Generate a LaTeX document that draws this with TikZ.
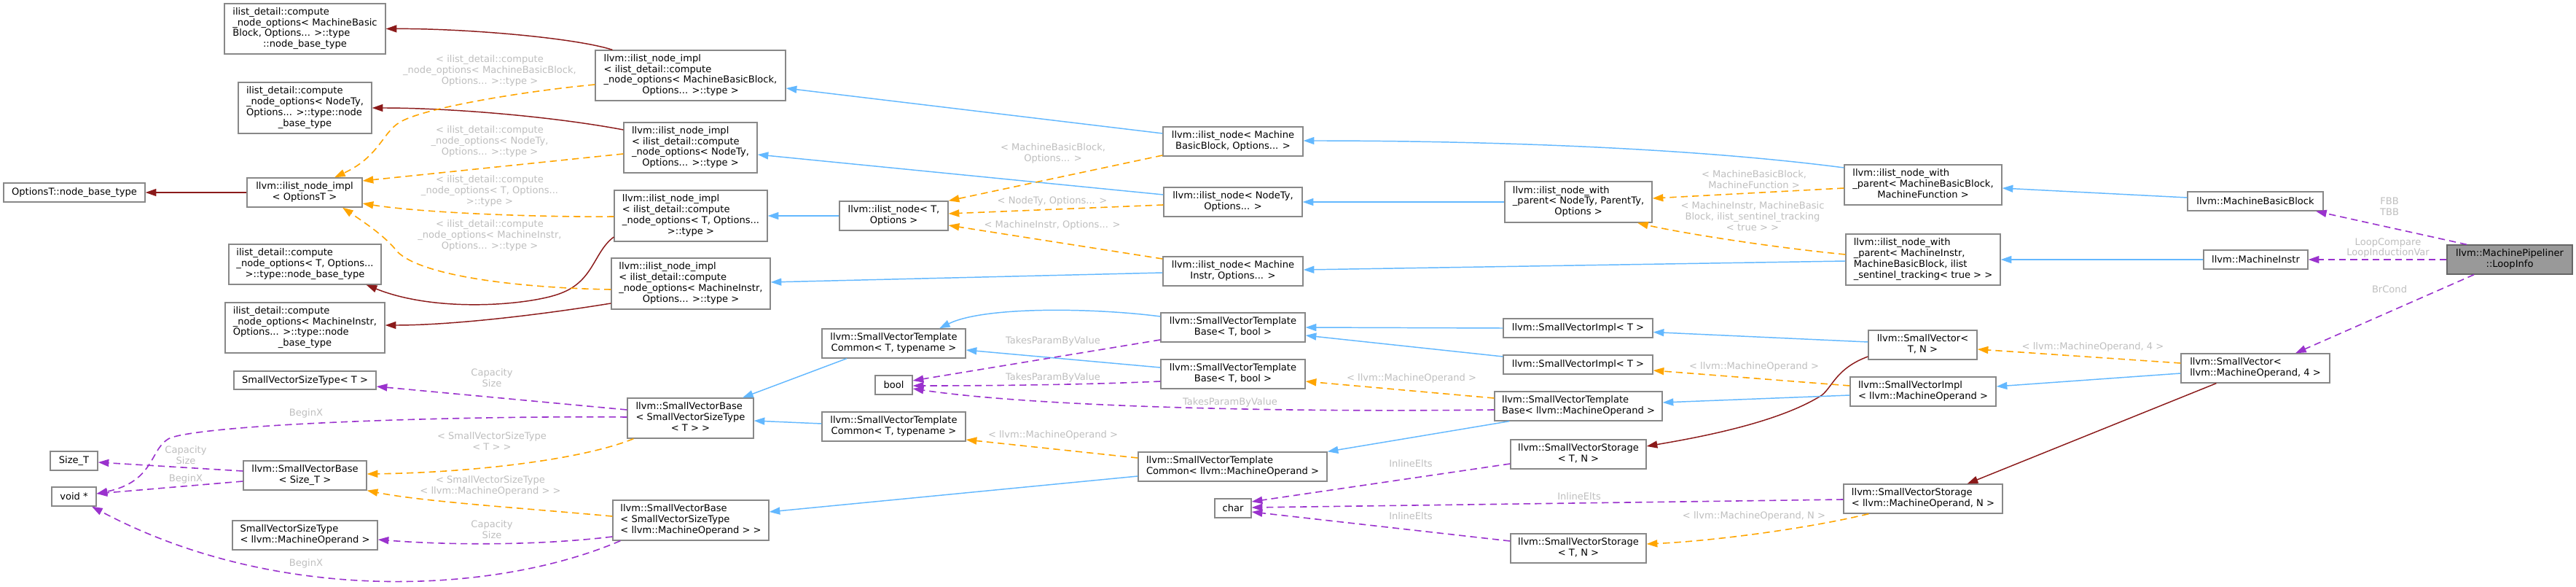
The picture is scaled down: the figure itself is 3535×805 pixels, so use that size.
\documentclass[tikz,border=0pt]{standalone}
\usepackage{fontspec}
\setmainfont{DejaVu Sans}
\usetikzlibrary{arrows.meta,calc}
\definecolor{eblue}{HTML}{63B8FF}
\definecolor{ered}{HTML}{8B1A1A}
\definecolor{eorange}{HTML}{FFA500}
\definecolor{epurple}{HTML}{9A32CD}
\definecolor{lgrey}{HTML}{BEBEBE}
\definecolor{bord}{HTML}{888888}
\definecolor{rootfill}{HTML}{999999}
\definecolor{rootbord}{HTML}{666666}
\newcommand\nodefont{\fontsize{9.8}{11.2}\selectfont}
\newcommand\twol[2]{\begin{tabular}{@{}l@{}}#1\\\multicolumn{1}{@{}c@{}}{#2}\end{tabular}}
\newcommand\mkbox[7]{\node[#1, minimum width={(#5-#3)*0.75pt}, minimum height={(#6-#4)*0.75pt}] (#2) at ({(#3+#5)/2},{(#4+#6)/2}) {#7};}
\begin{document}
\begin{tikzpicture}[x=0.75pt,y=-0.75pt,
  box/.style={draw=bord, fill=white, line width=1pt, inner sep=0pt, font=\nodefont},
  rootbox/.style={box, draw=rootbord, fill=rootfill},
  lbl/.style={text=lgrey, font=\nodefont, align=center, inner sep=0pt},
  tip/.style={-{Triangle[length=11pt,width=7.5pt]}},
  blueE/.style={tip, draw=eblue, line width=1.1pt},
  redE/.style={tip, draw=ered, line width=1.1pt},
  orangeE/.style={tip, draw=eorange, line width=1.2pt, dash pattern=on 7pt off 4.5pt},
  purpleE/.style={tip, draw=epurple, line width=1.2pt, dash pattern=on 7pt off 4.5pt}]
\useasboundingbox (0,0) rectangle (3535,805);

% nodes
\mkbox{box}{N1}{308}{5}{529}{74}{\twol{ilist\_detail::compute\\\_node\_options< MachineBasic\\Block, Options... >::type}{::node\_base\_type}}
\mkbox{box}{N2}{327}{113}{510}{183}{\twol{ilist\_detail::compute\\\_node\_options< NodeTy,\\Options... >::type::node}{\_base\_type}}
\mkbox{box}{OptionsT}{5}{251}{199}{277}{OptionsT::node\_base\_type}
\mkbox{box}{implOpt}{339}{244}{497}{284}{\twol{llvm::ilist\_node\_impl}{< OptionsT >}}
\mkbox{box}{N3}{314}{335}{523}{390}{\twol{ilist\_detail::compute\\\_node\_options< T, Options...}{>::type::node\_base\_type}}
\mkbox{box}{N4}{309}{415}{528}{484}{\twol{ilist\_detail::compute\\\_node\_options< MachineInstr,\\Options... >::type::node}{\_base\_type}}
\mkbox{box}{SVSTT}{321}{509}{516}{534}{SmallVectorSizeType< T >}
\mkbox{box}{SizeT}{69}{619}{134}{645}{Size\_T}
\mkbox{box}{voidp}{71}{668}{132}{694}{void *}
\mkbox{box}{SVBSize}{334}{632}{503}{672}{\twol{llvm::SmallVectorBase}{< Size\_T >}}
\mkbox{box}{SVSTMO}{319}{714}{518}{754}{\twol{SmallVectorSizeType}{< llvm::MachineOperand >}}

\mkbox{box}{implMBB}{817}{69}{1078}{138}{\twol{llvm::ilist\_node\_impl\\< ilist\_detail::compute\\\_node\_options< MachineBasicBlock,}{Options... >::type >}}
\mkbox{box}{implNodeTy}{856}{168}{1039}{237}{\twol{llvm::ilist\_node\_impl\\< ilist\_detail::compute\\\_node\_options< NodeTy,}{Options... >::type >}}
\mkbox{box}{implT}{843}{261}{1053}{331}{\twol{llvm::ilist\_node\_impl\\< ilist\_detail::compute\\\_node\_options< T, Options...}{>::type >}}
\mkbox{box}{implMI}{839}{354}{1057}{424}{\twol{llvm::ilist\_node\_impl\\< ilist\_detail::compute\\\_node\_options< MachineInstr,}{Options... >::type >}}
\mkbox{box}{SVBT}{861}{546}{1034}{601}{\twol{llvm::SmallVectorBase\\< SmallVectorSizeType}{< T > >}}
\mkbox{box}{SVBMO}{841}{686}{1055}{741}{\twol{llvm::SmallVectorBase\\< SmallVectorSizeType}{< llvm::MachineOperand > >}}

\mkbox{box}{nodeT}{1152}{276}{1301}{316}{\twol{llvm::ilist\_node< T,}{Options >}}
\mkbox{box}{SVTCT1}{1128}{451}{1325}{491}{\twol{llvm::SmallVectorTemplate}{Common< T, typename >}}
\mkbox{box}{bool}{1201}{515}{1252}{541}{bool}
\mkbox{box}{SVTCT2}{1128}{565}{1325}{605}{\twol{llvm::SmallVectorTemplate}{Common< T, typename >}}

\mkbox{box}{nodeMBB}{1596}{174}{1788}{214}{\twol{llvm::ilist\_node< Machine}{BasicBlock, Options... >}}
\mkbox{box}{nodeNodeTy}{1597}{257}{1787}{297}{\twol{llvm::ilist\_node< NodeTy,}{Options... >}}
\mkbox{box}{nodeMI}{1596}{352}{1788}{392}{\twol{llvm::ilist\_node< Machine}{Instr, Options... >}}
\mkbox{box}{SVTBT1}{1593}{429}{1791}{469}{\twol{llvm::SmallVectorTemplate}{Base< T, bool >}}
\mkbox{box}{SVTBT2}{1593}{493}{1791}{533}{\twol{llvm::SmallVectorTemplate}{Base< T, bool >}}
\mkbox{box}{SVTCMO}{1562}{620}{1821}{660}{\twol{llvm::SmallVectorTemplate}{Common< llvm::MachineOperand >}}
\mkbox{box}{char}{1667}{684}{1717}{710}{char}

\mkbox{box}{withp}{2065}{249}{2267}{305}{\twol{llvm::ilist\_node\_with\\\_parent< NodeTy, ParentTy,}{Options >}}
\mkbox{box}{SVImplT1}{2063}{437}{2268}{463}{llvm::SmallVectorImpl< T >}
\mkbox{box}{SVImplT2}{2063}{487}{2268}{513}{llvm::SmallVectorImpl< T >}
\mkbox{box}{SVTBMO}{2051}{537}{2281}{577}{\twol{llvm::SmallVectorTemplate}{Base< llvm::MachineOperand >}}
\mkbox{box}{SVSTN1}{2073}{603}{2259}{643}{\twol{llvm::SmallVectorStorage}{< T, N >}}
\mkbox{box}{SVSTN2}{2073}{732}{2259}{772}{\twol{llvm::SmallVectorStorage}{< T, N >}}

\mkbox{box}{withpMBB}{2531}{226}{2747}{281}{\twol{llvm::ilist\_node\_with\\\_parent< MachineBasicBlock,}{MachineFunction >}}
\mkbox{box}{withpMI}{2533}{321}{2745}{391}{\twol{llvm::ilist\_node\_with\\\_parent< MachineInstr,\\MachineBasicBlock, ilist}{\_sentinel\_tracking< true > >}}
\mkbox{box}{SVTN}{2564}{453}{2713}{493}{\twol{llvm::SmallVector<}{T, N >}}
\mkbox{box}{SVImplMO}{2539}{517}{2739}{557}{\twol{llvm::SmallVectorImpl}{< llvm::MachineOperand >}}
\mkbox{box}{SVSMON}{2530}{664}{2748}{704}{\twol{llvm::SmallVectorStorage}{< llvm::MachineOperand, N >}}

\mkbox{box}{MBB}{3002}{263}{3188}{289}{llvm::MachineBasicBlock}
\mkbox{box}{MI}{3024}{343}{3167}{369}{llvm::MachineInstr}
\mkbox{box}{SVMO4}{2993}{485}{3197}{525}{\twol{llvm::SmallVector<}{llvm::MachineOperand, 4 >}}
\mkbox{rootbox}{LoopInfo}{3358}{336}{3530}{376}{\twol{llvm::MachinePipeliner}{::LoopInfo}}

% dark red edges
\draw[redE] (implOpt.west) -- (OptionsT.east);
\draw[redE] ($(implMBB.north west)+(24,0)$) .. controls (790,52) and (640,39) .. (N1.east);
\draw[redE] ($(implNodeTy.west)+(0,-24.5)$) .. controls (760,160) and (620,148) .. (N2.east);
\draw[redE] ($(implT.west)+(0,29)$) .. controls (815,345) and (815,385) .. (770,402) .. controls (730,418) and (600,430) .. ($(N3.south east)+(-21,0)$);
\draw[redE] ($(implMI.west)+(0,27)$) .. controls (740,432) and (620,446) .. ($(N4.east)+(0,-3.5)$);
\draw[redE] ($(SVTN.west)+(0,16)$) .. controls (2520,505) and (2515,530) .. (2500,542) .. controls (2440,580) and (2330,600) .. ($(SVSTN1.east)+(0,-11)$);
\draw[redE] ($(SVMO4.south west)+(49,0)$) -- ($(SVSMON.north east)+(-49,0)$);

% blue edges
\draw[blueE] ($(nodeMBB.west)+(0,-11)$) -- ($(implMBB.east)+(0,17.5)$);
\draw[blueE] ($(nodeNodeTy.west)+(0,-10)$) -- ($(implNodeTy.east)+(0,9.5)$);
\draw[blueE] (nodeT.west) -- (implT.east);
\draw[blueE] ($(nodeMI.west)+(0,2)$) -- ($(implMI.east)+(0,-2)$);
\draw[blueE] ($(withpMBB.west)+(0,-23.5)$) .. controls (2300,200) and (2000,193) .. ($(nodeMBB.east)+(0,-1)$);
\draw[blueE] (withp.west) -- (nodeNodeTy.east);
\draw[blueE] ($(withpMI.west)+(0,2)$) -- ($(nodeMI.east)+(0,-2)$);
\draw[blueE] ($(MBB.west)+(0,-5)$) -- ($(withpMBB.east)+(0,4.5)$);
\draw[blueE] (MI.west) -- (withpMI.east);
\draw[blueE] ($(SVTBT1.west)+(0,-15)$) .. controls (1500,422) and (1350,420) .. ($(SVTCT1.north)+(62.5,0)$);
\draw[blueE] ($(SVTBT2.west)+(0,-9)$) -- ($(SVTCT1.east)+(0,9)$);
\draw[blueE] ($(SVTCT1.south)+(-64.5,0)$) -- ($(SVBT.north)+(71.5,0)$);
\draw[blueE] ($(SVTCT2.west)+(0,-4)$) -- ($(SVBT.east)+(0,3.5)$);
\draw[blueE] ($(SVTCMO.west)+(0,13)$) -- ($(SVBMO.east)+(0,-11.5)$);
\draw[blueE] (SVImplT1.west) -- (SVTBT1.east);
\draw[blueE] ($(SVImplT2.west)+(0,-11)$) -- ($(SVTBT1.east)+(0,11)$);
\draw[blueE] ($(SVTBMO.south west)+(21,0)$) -- (SVTCMO.north east);
\draw[blueE] ($(SVTN.west)+(0,-4)$) -- ($(SVImplT1.east)+(0,5.5)$);
\draw[blueE] ($(SVImplMO.west)+(0,5)$) -- ($(SVTBMO.east)+(0,-5)$);
\draw[blueE] ($(SVMO4.west)+(0,7)$) -- ($(SVImplMO.east)+(0,-7)$);

% orange template edges
\draw[orangeE] ($(implMBB.west)+(0,12.5)$) .. controls (720,125) and (580,148) .. (548,168) .. controls (525,182) and (520,215) .. ($(implOpt.north)+(41,0)$);
\draw[orangeE] ($(implNodeTy.west)+(0,8.5)$) -- ($(implOpt.east)+(0,-16)$);
\draw[orangeE] ($(implT.west)+(0,1)$) .. controls (740,298) and (580,292) .. ($(implOpt.east)+(0,15)$);
\draw[orangeE] ($(implMI.west)+(0,8)$) .. controls (720,395) and (580,380) .. (545,345) .. controls (530,325) and (500,305) .. ($(implOpt.south)+(52,0)$);
\draw[orangeE] ($(nodeMBB.west)+(0,19)$) -- (nodeT.north east);
\draw[orangeE] ($(nodeNodeTy.west)+(0,4)$) -- ($(nodeT.east)+(0,-3)$);
\draw[orangeE] ($(nodeMI.west)+(0,-17)$) -- ($(nodeT.east)+(0,13)$);
\draw[orangeE] ($(withpMBB.west)+(0,4.5)$) -- ($(withp.east)+(0,-5)$);
\draw[orangeE] ($(withpMI.west)+(0,-7)$) .. controls (2420,338) and (2300,318) .. ($(withp.south)+(81,0)$);
\draw[orangeE] ($(SVTBMO.west)+(0,-11)$) -- ($(SVTBT2.east)+(0,10)$);
\draw[orangeE] ($(SVImplMO.west)+(0,-8)$) -- ($(SVImplT2.east)+(0,8)$);
\draw[orangeE] ($(SVMO4.west)+(0,-7)$) -- ($(SVTN.east)+(0,6)$);
\draw[orangeE] ($(SVSMON.south west)+(35,0)$) .. controls (2480,725) and (2350,742) .. ($(SVSTN2.east)+(0,-6)$);
\draw[orangeE] ($(SVTCMO.west)+(0,-12)$) -- ($(SVTCT2.east)+(0,18)$);
\draw[orangeE] ($(SVBT.south west)+(9,0)$) .. controls (800,630) and (650,648) .. ($(SVBSize.east)+(0,-2)$);
\draw[orangeE] ($(SVBMO.west)+(0,-5.5)$) .. controls (720,697) and (580,688) .. (SVBSize.south east);

% purple usage edges
\draw[purpleE] ($(SVBT.west)+(0,-11.5)$) -- ($(SVSTT.east)+(0,8.5)$);
\draw[purpleE] ($(SVBT.west)+(0,-1.5)$) .. controls (650,570) and (300,580) .. (235,600) .. controls (205,612) and (215,660) .. ($(voidp.east)+(0,-4)$);
\draw[purpleE] ($(SVBSize.west)+(0,-6)$) -- ($(SizeT.east)+(0,2)$);
\draw[purpleE] ($(SVBSize.west)+(0,8)$) -- ($(voidp.east)+(0,-4)$);
\draw[purpleE] ($(SVBMO.west)+(0,22.5)$) .. controls (740,748) and (620,748) .. ($(SVSTMO.east)+(0,6)$);
\draw[purpleE] ($(SVBMO.south west)+(11,0)$) .. controls (680,815) and (380,830) .. ($(voidp.south)+(24.5,0)$);
\draw[purpleE] ($(SVTBT1.west)+(0,17)$) -- ($(bool.east)+(0,-6)$);
\draw[purpleE] ($(SVTBT2.west)+(0,10)$) .. controls (1480,528) and (1350,529) .. ($(bool.east)+(0,1)$);
\draw[purpleE] ($(SVTBMO.west)+(0,5)$) .. controls (1700,566) and (1400,555) .. ($(bool.east)+(0,5)$);
\draw[purpleE] ($(SVSTN1.west)+(0,13)$) -- ($(char.east)+(0,-9)$);
\draw[purpleE] ($(SVSMON.west)+(0,1)$) -- ($(char.east)+(0,-1)$);
\draw[purpleE] ($(SVSTN2.west)+(0,-10)$) -- ($(char.east)+(0,5)$);
\draw[purpleE] ($(LoopInfo.north)+(-59,0)$) -- ($(MBB.south)+(83,0)$);
\draw[purpleE] (LoopInfo.west) -- (MI.east);
\draw[purpleE] ($(LoopInfo.south)+(-49,0)$) -- ($(SVMO4.north)+(55,0)$);

% edge labels
\node[lbl] (L28) at (672,97) {< ilist\_detail::compute\\\_node\_options< MachineBasicBlock,\\Options... >::type >};
\node[lbl] (L29) at (672,194) {< ilist\_detail::compute\\\_node\_options< NodeTy,\\Options... >::type >};
\node[lbl] (L30) at (672,262) {< ilist\_detail::compute\\\_node\_options< T, Options...\\>::type >};
\node[lbl] (L31) at (672,323) {< ilist\_detail::compute\\\_node\_options< MachineInstr,\\Options... >::type >};
\node[lbl] (L32) at (1445,210) {< MachineBasicBlock,\\Options... >};
\node[lbl] (L33) at (1444,276) {< NodeTy, Options... >};
\node[lbl] (L34) at (1444,309) {< MachineInstr, Options... >};
\node[lbl] (L35) at (2407,246) {< MachineBasicBlock,\\MachineFunction >};
\node[lbl] (L36) at (2405,297) {< MachineInstr, MachineBasic\\Block, ilist\_sentinel\_tracking\\< true > >};
\node[lbl] (L37) at (1937,519) {< llvm::MachineOperand >};
\node[lbl] (L38) at (2407,503) {< llvm::MachineOperand >};
\node[lbl] (L39) at (2872,476) {< llvm::MachineOperand, 4 >};
\node[lbl] (L40) at (2407,708) {< llvm::MachineOperand, N >};
\node[lbl] (L41) at (1445,597) {< llvm::MachineOperand >};
\node[lbl] (L42) at (675,605) {< SmallVectorSizeType\\< T > >};
\node[lbl] (L43) at (673,666) {< SmallVectorSizeType\\< llvm::MachineOperand > >};
\node[lbl] (L44) at (675,518) {Capacity\\Size};
\node[lbl] (L45) at (420,567) {BeginX};
\node[lbl] (L46) at (255,624) {Capacity\\Size};
\node[lbl] (L47) at (255,657) {BeginX};
\node[lbl] (L48) at (675,726) {Capacity\\Size};
\node[lbl] (L49) at (420,773) {BeginX};
\node[lbl] (L50) at (1445,468) {TakesParamByValue};
\node[lbl] (L51) at (1445,518) {TakesParamByValue};
\node[lbl] (L52) at (1688,552) {TakesParamByValue};
\node[lbl] (L53) at (1936,636) {InlineElts};
\node[lbl] (L54) at (2167,681) {InlineElts};
\node[lbl] (L55) at (1936,708) {InlineElts};
\node[lbl] (L56) at (3279,283) {FBB\\TBB};
\node[lbl] (L57) at (3277,340) {LoopCompare\\LoopInductionVar};
\node[lbl] (L58) at (3279,397) {BrCond};
\end{tikzpicture}
\end{document}
